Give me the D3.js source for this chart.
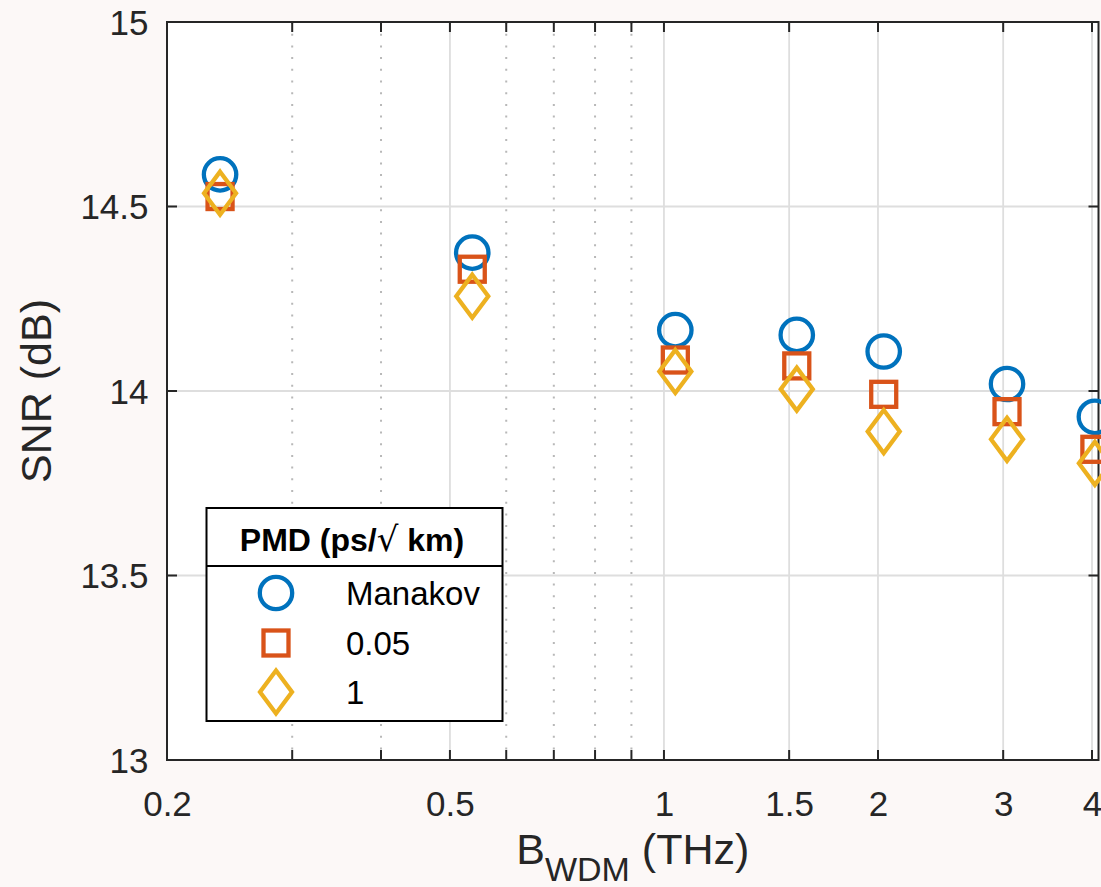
<!DOCTYPE html>
<html>
<head>
<meta charset="utf-8">
<script src="https://cdn.jsdelivr.net/npm/d3@7"></script>
<style>
  html, body { margin: 0; padding: 0; background: #fcf8f7; }
  svg { display: block; }
  text { font-family: "Liberation Sans", Arial, Helvetica, sans-serif; }
</style>
</head>
<body>
<svg id="chart" width="1101" height="887"></svg>
<script>
// WDM bandwidth (THz) for each simulated point
const bandwidth = [0.2375, 0.5375, 1.0375, 1.5375, 2.0375, 3.0375, 4.0375];
// SNR (dB) per PMD setting
const snrManakov = [14.587, 14.375, 14.165, 14.152, 14.107, 14.019, 13.930];
const snrPmd005  = [14.527, 14.330, 14.084, 14.068, 13.991, 13.944, 13.842];
const snrPmd1    = [14.536, 14.257, 14.053, 14.005, 13.890, 13.869, 13.804];

const seriesNames = ["Manakov", "0.05", "1"];
const xMajorTicks = [0.2, 0.5, 1, 1.5, 2, 3, 4];
const xMinorTicks = [0.3, 0.4, 0.6, 0.7, 0.8, 0.9];
const yTicks = [13, 13.5, 14, 14.5, 15];

const W = 1101, H = 887;
const margin = { left: 167, right: 2.5, top: 22, bottom: 127 };
const x0 = margin.left, x1 = W - margin.right;
const y0 = margin.top, y1 = H - margin.bottom;

const svg = d3.select("#chart");
svg.append("rect").attr("width", W).attr("height", H).attr("fill", "#fcf8f7");

const x = d3.scaleLog().domain([0.2, 4.085]).range([x0, x1]);
const y = d3.scaleLinear().domain([13, 15]).range([y1, y0]);

// plot background
svg.append("rect").attr("x", x0).attr("y", y0).attr("width", x1 - x0).attr("height", y1 - y0).attr("fill", "#ffffff");

// grid
const grid = svg.append("g");
grid.selectAll(".gmin").data(xMinorTicks).join("line")
  .attr("x1", d => x(d)).attr("x2", d => x(d)).attr("y1", y0).attr("y2", y1)
  .attr("stroke", "#b8b8b8").attr("stroke-width", 2).attr("stroke-dasharray", "2 9.7");
grid.selectAll(".gmaj").data(xMajorTicks.slice(1)).join("line")
  .attr("x1", d => x(d)).attr("x2", d => x(d)).attr("y1", y0).attr("y2", y1)
  .attr("stroke", "#dedede").attr("stroke-width", 1.8);
grid.selectAll(".gy").data(yTicks.slice(1, -1)).join("line")
  .attr("x1", x0).attr("x2", x1).attr("y1", d => y(d)).attr("y2", d => y(d))
  .attr("stroke", "#dedede").attr("stroke-width", 1.8);

// axes (box with inward ticks on all sides)
const axisColor = "#262626";
const tickLen = 10;
const allX = xMajorTicks.concat(xMinorTicks);

const bottomAxis = d3.axisBottom(x).tickValues(xMajorTicks).tickSize(0).tickPadding(0)
  .tickFormat(d => String(d));
const gB = svg.append("g").attr("transform", `translate(0,${y1})`).call(bottomAxis);
gB.select(".domain").remove();
gB.selectAll("text").attr("font-size", 35).attr("fill", axisColor).attr("dy", null).attr("y", 56);

const leftAxis = d3.axisLeft(y).tickValues(yTicks).tickSize(0).tickPadding(0)
  .tickFormat(d => String(d));
const gL = svg.append("g").attr("transform", `translate(${x0},0)`).call(leftAxis);
gL.select(".domain").remove();
gL.selectAll("text").attr("font-size", 35).attr("fill", axisColor).attr("x", -18.5).attr("dy", "0.35em");

const ticks = svg.append("g").attr("stroke", axisColor).attr("stroke-width", 2);
ticks.selectAll(".tb").data(allX).join("line")
  .attr("x1", d => x(d)).attr("x2", d => x(d)).attr("y1", y1).attr("y2", y1 - tickLen);
ticks.selectAll(".tt").data(allX).join("line")
  .attr("x1", d => x(d)).attr("x2", d => x(d)).attr("y1", y0).attr("y2", y0 + tickLen);
ticks.selectAll(".tl").data(yTicks).join("line")
  .attr("x1", x0).attr("x2", x0 + tickLen).attr("y1", d => y(d)).attr("y2", d => y(d));
ticks.selectAll(".tr").data(yTicks).join("line")
  .attr("x1", x1).attr("x2", x1 - tickLen).attr("y1", d => y(d)).attr("y2", d => y(d));

svg.append("rect").attr("x", x0).attr("y", y0).attr("width", x1 - x0).attr("height", y1 - y0)
  .attr("fill", "none").attr("stroke", axisColor).attr("stroke-width", 2);

// axis labels
const xl = svg.append("text").attr("x", (x0 + x1) / 2).attr("y", 864)
  .attr("text-anchor", "middle").attr("fill", axisColor).attr("font-size", 43);
xl.append("tspan").text("B");
xl.append("tspan").attr("font-size", 34).attr("dy", 17).text("WDM");
xl.append("tspan").attr("dy", -17).text(" (THz)");

svg.append("text").attr("transform", `translate(51,${(y0 + y1) / 2}) rotate(-90)`)
  .attr("text-anchor", "middle").attr("fill", axisColor).attr("font-size", 43).text("SNR (dB)");

// marker shapes
const colors = ["#0072BD", "#D95319", "#EDB120"];
const sw = 4.3;
function drawMarker(g, kind, cx, cy, color) {
  if (kind === 0) {
    g.append("circle").attr("cx", cx).attr("cy", cy).attr("r", 16.2)
      .attr("fill", "none").attr("stroke", color).attr("stroke-width", sw);
  } else if (kind === 1) {
    g.append("rect").attr("x", cx - 12.5).attr("y", cy - 12.5).attr("width", 25).attr("height", 25)
      .attr("fill", "none").attr("stroke", color).attr("stroke-width", sw);
  } else {
    const a = 16, b = 21.5;
    g.append("path").attr("d", `M${cx},${cy - b}L${cx + a},${cy}L${cx},${cy + b}L${cx - a},${cy}Z`)
      .attr("fill", "none").attr("stroke", color).attr("stroke-width", sw)
      .attr("stroke-linejoin", "miter").attr("stroke-miterlimit", 10);
  }
}

const series = [snrManakov, snrPmd005, snrPmd1];
const marks = svg.append("g");
series.forEach((vals, k) => {
  vals.forEach((v, i) => drawMarker(marks, k, x(bandwidth[i]), y(v), colors[k]));
});

// legend
const lg = svg.append("g");
const lx = 206.5, ly = 508, lw = 296, lh = 213;
lg.append("rect").attr("x", lx).attr("y", ly).attr("width", lw).attr("height", lh)
  .attr("fill", "#ffffff").attr("stroke", "#000").attr("stroke-width", 2);
lg.append("line").attr("x1", lx).attr("x2", lx + lw).attr("y1", 566).attr("y2", 566)
  .attr("stroke", "#000").attr("stroke-width", 2);
const lt = lg.append("text").attr("x", 352).attr("y", 551).attr("text-anchor", "middle")
  .attr("font-size", 32).attr("font-weight", "bold").attr("fill", "#000");
lt.append("tspan").text("PMD (ps/");
lt.append("tspan").attr("font-family", "DejaVu Sans").attr("font-weight", "normal")
  .attr("font-size", 34).text("\u221A");
lt.append("tspan").text(" km)");
const rowY = [593, 643, 692];
seriesNames.forEach((name, k) => {
  drawMarker(lg, k, 276, rowY[k], colors[k]);
  lg.append("text").attr("x", 346).attr("y", rowY[k] + 12).attr("font-size", 33)
    .attr("fill", "#000").text(name);
});
</script>
</body>
</html>
